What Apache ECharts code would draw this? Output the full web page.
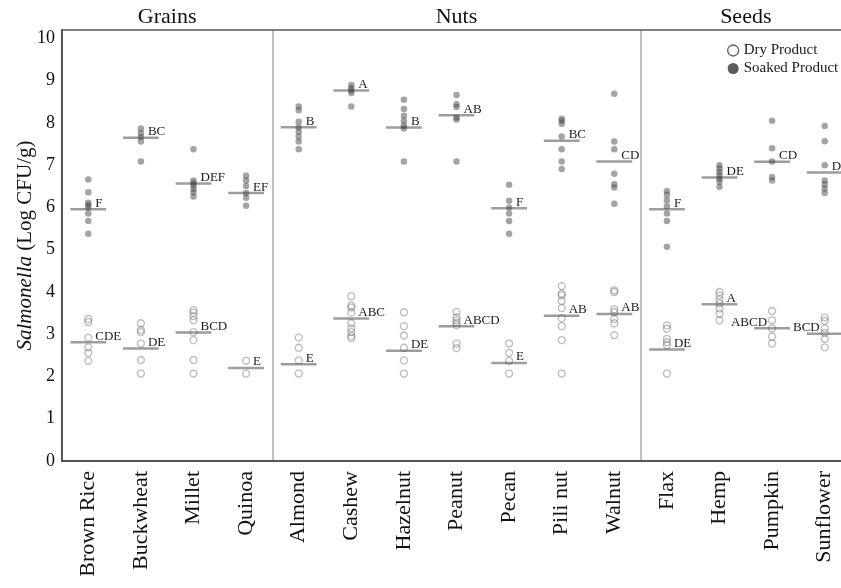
<!DOCTYPE html>
<html>
<head>
<meta charset="utf-8">
<script src="https://cdn.jsdelivr.net/npm/echarts@6/dist/echarts.min.js"></script>
<style>
  html, body { margin: 0; padding: 0; background: #fff; }
  #chart { width: 841px; height: 588px; }
</style>
</head>
<body>
<div id="chart"></div>
<script>
// Categorias e grupos
const categories = ['Brown Rice', 'Buckwheat', 'Millet', 'Quinoa', 'Almond', 'Cashew', 'Hazelnut',
  'Peanut', 'Pecan', 'Pili nut', 'Walnut', 'Flax', 'Hemp', 'Pumpkin', 'Sunflower'];
const groupNames = ['Grains', 'Nuts', 'Seeds'];
const groupSizes = [4, 7, 4];
const yTicks = [0, 1, 2, 3, 4, 5, 6, 7, 8, 9, 10];

// Valores individuais (Log CFU/g)
const soakedValues = [
  [6.66, 6.36, 6.11, 6.06, 6.0, 5.86, 5.68, 5.38],
  [7.87, 7.76, 7.67, 7.56, 7.09],
  [7.38, 6.64, 6.58, 6.52, 6.44, 6.36, 6.26],
  [6.75, 6.64, 6.51, 6.34, 6.23, 6.04],
  [8.39, 8.30, 8.03, 7.90, 7.79, 7.68, 7.56, 7.38],
  [8.90, 8.83, 8.77, 8.71, 8.39],
  [8.55, 8.33, 8.17, 8.05, 7.94, 7.87, 7.09],
  [8.66, 8.44, 8.38, 8.13, 8.08, 7.09],
  [6.54, 6.16, 6.0, 5.86, 5.68, 5.38],
  [8.10, 8.05, 7.98, 7.68, 7.38, 7.09, 6.91],
  [8.69, 7.56, 7.38, 6.80, 6.55, 6.47, 6.09],
  [6.39, 6.30, 6.17, 6.03, 5.86, 5.68, 5.07],
  [7.0, 6.92, 6.84, 6.76, 6.68, 6.61, 6.49],
  [8.05, 7.40, 7.09, 6.72, 6.64],
  [7.93, 7.57, 7.0, 6.64, 6.55, 6.45, 6.34]
];
const dryValues = [
  [3.36, 3.29, 2.92, 2.69, 2.56, 2.37],
  [3.26, 3.10, 3.05, 2.78, 2.39, 2.07],
  [3.57, 3.51, 3.43, 3.33, 3.05, 2.86, 2.39, 2.07],
  [2.37, 2.07],
  [2.92, 2.68, 2.38, 2.07],
  [3.90, 3.68, 3.63, 3.51, 3.26, 3.14, 3.05, 2.96, 2.91],
  [3.52, 3.19, 2.97, 2.68, 2.38, 2.07],
  [3.53, 3.40, 3.33, 3.27, 3.21, 2.78, 2.67],
  [2.78, 2.56, 2.37, 2.07],
  [4.14, 3.96, 3.92, 3.79, 3.62, 3.38, 3.19, 2.86, 2.07],
  [4.04, 4.0, 3.59, 3.52, 3.36, 3.26, 2.98],
  [3.21, 3.13, 2.89, 2.81, 2.74, 2.07],
  [4.0, 3.92, 3.82, 3.73, 3.61, 3.49, 3.33],
  [3.55, 3.33, 3.14, 2.94, 2.78],
  [3.40, 3.32, 3.14, 3.03, 2.89, 2.69]
];

// Médias e letras de significância
const soakedMean = [5.96, 7.65, 6.57, 6.34, 7.90, 8.77, 7.89, 8.18, 5.98, 7.58, 7.09, 5.96, 6.71, 7.08, 6.83];
const soakedLetters = ['F', 'BC', 'DEF', 'EF', 'B', 'A', 'B', 'AB', 'F', 'BC', 'CD', 'F', 'DE', 'CD', 'DE'];
const dryMean = [2.81, 2.66, 3.04, 2.20, 2.29, 3.37, 2.61, 3.19, 2.32, 3.44, 3.48, 2.64, 3.71, 3.14, 3.01];
const dryLetters = ['CDE', 'DE', 'BCD', 'E', 'E', 'ABC', 'DE', 'ABCD', 'E', 'AB', 'AB', 'DE', 'A', 'ABCD', 'BCD'];

const FONT = '"Liberation Serif", "Times New Roman", serif';
// letras que ficam à esquerda da linha (evita sobreposição)
const dryLeft = ['Pumpkin', 'Sunflower'];

function toPoints(lists) {
  const out = [];
  lists.forEach((vals, i) => vals.forEach(v => out.push([i, v])));
  return out;
}

function meanSeries(means, letters, leftSet) {
  return {
    type: 'custom',
    silent: true,
    z: 5,
    data: means.map((m, i) => [i, m]),
    renderItem: function (params, api) {
      const idx = api.value(0);
      const p = api.coord([idx, api.value(1)]);
      const half = api.size([1, 0])[0] * 0.34;
      const left = leftSet.indexOf(categories[idx]) >= 0;
      return {
        type: 'group',
        children: [
          {
            type: 'line',
            shape: { x1: p[0] - half, y1: p[1], x2: p[0] + half, y2: p[1] },
            style: { stroke: 'rgba(60,60,60,0.5)', lineWidth: 2.5 }
          },
          {
            type: 'text',
            x: left ? p[0] - 5 : p[0] + 7,
            y: p[1] - 6,
            style: {
              text: letters[params.dataIndex],
              fill: '#1a1a1a',
              font: '13px ' + FONT,
              align: left ? 'right' : 'left',
              verticalAlign: 'middle'
            }
          }
        ]
      };
    }
  };
}

const chart = echarts.init(document.getElementById('chart'));

const option = {
  backgroundColor: '#fff',
  animation: false,
  grid: { left: 62, top: 30, width: 789, height: 431, containLabel: false, outerBoundsMode: 'none' },
  legend: {
    orient: 'vertical',
    left: 722,
    top: 38,
    itemWidth: 11,
    itemHeight: 11,
    itemGap: 3,
    textStyle: { fontFamily: FONT, fontSize: 15, color: '#1a1a1a' },
    data: [
      { name: 'Dry Product', icon: 'circle', itemStyle: { color: '#fff', borderColor: '#333', borderWidth: 1.3 } },
      { name: 'Soaked Product', icon: 'circle', itemStyle: { color: '#333', borderWidth: 0 } }
    ]
  },
  xAxis: [
    {
      type: 'category',
      data: categories,
      position: 'bottom',
      axisLine: { lineStyle: { color: '#555', width: 2 } },
      axisTick: { show: false },
      axisLabel: {
        interval: 0,
        rotate: 90,
        margin: 10,
        fontFamily: FONT,
        fontSize: 22,
        color: '#111'
      },
      splitLine: {
        show: true,
        interval: function (index) {
          return index === 4 || index === 11;
        },
        lineStyle: { color: '#aaa', width: 1.5 }
      }
    },
    {
      type: 'category',
      data: categories,
      position: 'top',
      axisLine: { onZero: false, lineStyle: { color: '#555', width: 1.5 } },
      axisTick: { show: false },
      axisLabel: { show: false },
      splitLine: { show: false }
    }
  ],
  yAxis: {
    type: 'value',
    min: yTicks[0],
    max: 10.2,
    interval: 1,
    name: '{it|Salmonella} (Log CFU/g)',
    nameLocation: 'middle',
    nameRotate: 90,
    nameGap: 26,
    nameMoveOverlap: false,
    nameTextStyle: {
      fontFamily: FONT,
      fontSize: 21,
      color: '#111',
      rich: { it: { fontFamily: FONT, fontSize: 21, fontStyle: 'italic', color: '#111' } }
    },
    axisLine: { show: true, lineStyle: { color: '#555', width: 2 } },
    axisTick: { show: false },
    splitLine: { show: false },
    axisLabel: {
      margin: 7,
      showMaxLabel: false,
      fontFamily: FONT,
      fontSize: 18,
      color: '#111',
      formatter: v => (yTicks.indexOf(v) >= 0 ? String(v) : '')
    }
  },
  series: [
    {
      name: 'Dry Product',
      type: 'scatter',
      symbol: 'circle',
      symbolSize: 7,
      z: 3,
      itemStyle: { color: 'rgba(255,255,255,0)', borderColor: 'rgba(90,90,90,0.5)', borderWidth: 1.3 },
      data: toPoints(dryValues)
    },
    {
      name: 'Soaked Product',
      type: 'scatter',
      symbol: 'circle',
      symbolSize: 6.5,
      z: 3,
      itemStyle: { color: 'rgba(70,70,70,0.62)' },
      data: toPoints(soakedValues)
    },
    meanSeries(dryMean, dryLetters, dryLeft),
    meanSeries(soakedMean, soakedLetters, [])
  ]
};

chart.setOption(option);

// Títulos dos grupos acima do gráfico
function drawGroupTitles() {
  const px = i => chart.convertToPixel({ xAxisIndex: 0 }, i);
  const band = px(1) - px(0);
  let start = 0;
  const texts = groupNames.map((name, g) => {
    const first = start;
    const last = start + groupSizes[g] - 1;
    start += groupSizes[g];
    const cx = (px(first) - band / 2 + px(last) + band / 2) / 2;
    return {
      type: 'text',
      x: cx,
      y: 17,
      style: {
        text: name,
        font: '22px ' + FONT,
        fill: '#111',
        align: 'center',
        verticalAlign: 'middle'
      }
    };
  });
  chart.setOption({ graphic: texts });
}
drawGroupTitles();
</script>
</body>
</html>
